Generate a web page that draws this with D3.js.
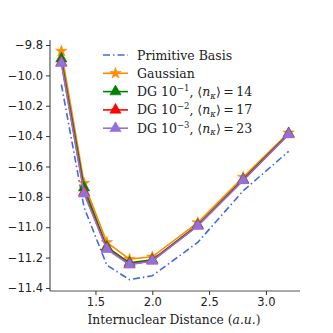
<!DOCTYPE html>
<html>
<head>
<meta charset="utf-8">
<script src="https://cdn.jsdelivr.net/npm/d3@7"></script>
<style>
  body { margin: 0; background: #fff; }
  svg text { fill: #222; }
</style>
</head>
<body>
<svg id="chart" width="333" height="333"></svg>
<script>
var distances = [1.2, 1.4, 1.6, 1.8, 2.0, 2.4, 2.8, 3.2];
var primitive = [-10.06, -10.87, -11.25, -11.345, -11.32, -11.10, -10.76, -10.50];
var gaussian = [-9.84, -10.71, -11.10, -11.21, -11.195, -10.97, -10.67, -10.378];
var dg1 = [-9.89, -10.74, -11.13, -11.235, -11.215, -10.985, -10.685, -10.383];
var dg2 = [-9.915, -10.77, -11.14, -11.245, -11.22, -10.99, -10.69, -10.388];
var dg3 = [-9.92, -10.78, -11.145, -11.247, -11.222, -10.992, -10.692, -10.389];
var xTicks = [1.5, 2.0, 2.5, 3.0];
var yTicks = [-9.8, -10.0, -10.2, -10.4, -10.6, -10.8, -11.0, -11.2, -11.4];

var series = [
  {name: 'Primitive Basis', values: primitive, color: '#4169e1', dash: '7,3,1.5,3', marker: null},
  {name: 'Gaussian', values: gaussian, color: '#ff8c00', dash: null, marker: 'star'},
  {name: 'DG 10', exp: '−1', n: '14', values: dg1, color: '#008000', dash: null, marker: 'tri'},
  {name: 'DG 10', exp: '−2', n: '17', values: dg2, color: '#ff0000', dash: null, marker: 'tri'},
  {name: 'DG 10', exp: '−3', n: '23', values: dg3, color: '#9370db', dash: null, marker: 'tri'}
];

(function () {
  var svg = d3.select('#chart'),
      left = 50, right = 300, top = 40, bottom = 291;

  var x = d3.scaleLinear().domain([1.1, 3.3]).range([left, right]);
  var y = d3.scaleLinear().domain([-11.42, -9.767]).range([bottom, top]);

  var fmt = function (d) { return d3.format('.1f')(d).replace('-', '−'); };

  var xAxis = svg.append('g')
    .attr('transform', 'translate(0,' + bottom + ')')
    .call(d3.axisBottom(x).tickValues(xTicks).tickFormat(fmt).tickSize(4).tickPadding(3));
  var yAxis = svg.append('g')
    .attr('transform', 'translate(' + left + ',0)')
    .call(d3.axisLeft(y).tickValues(yTicks).tickFormat(fmt).tickSize(4).tickPadding(3));

  [xAxis, yAxis].forEach(function (a) {
    a.select('.domain').attr('stroke', '#555').attr('stroke-width', 1.2);
    a.selectAll('.tick line').attr('stroke', '#333').attr('stroke-width', 1);
    a.selectAll('.tick text')
      .attr('font-family', 'DejaVu Sans')
      .attr('font-size', 11.5)
      .attr('fill', '#222');
  });
  yAxis.select('.domain').attr('d', 'M0,' + top + 'V' + bottom);
  xAxis.select('.domain').attr('d', 'M' + left + ',0H' + right);

  var line = d3.line()
    .x(function (d, i) { return x(distances[i]); })
    .y(function (d) { return y(d); });

  var star = d3.symbol().type(d3.symbolStar).size(40);
  var tri = d3.symbol().type(d3.symbolTriangle).size(55);

  function drawMarker(g, s, cx, cy) {
    if (!s.marker) return;
    g.append('path')
      .attr('d', s.marker === 'star' ? star() : tri())
      .attr('transform', 'translate(' + cx + ',' + cy + ')')
      .attr('fill', s.color)
      .attr('stroke', s.color)
      .attr('stroke-width', 0.6);
  }

  series.forEach(function (s) {
    var g = svg.append('g');
    g.append('path')
      .datum(s.values)
      .attr('d', line)
      .attr('fill', 'none')
      .attr('stroke', s.color)
      .attr('stroke-width', 1.6)
      .attr('stroke-dasharray', s.dash);
    s.values.forEach(function (v, i) {
      drawMarker(g, s, x(distances[i]), y(v));
    });
  });

  // legend
  var lg = svg.append('g').attr('font-family', 'DejaVu Serif').attr('font-size', 12.5);
  series.forEach(function (s, i) {
    var ly = 55 + i * 18.3;
    lg.append('line')
      .attr('x1', 103).attr('x2', 128)
      .attr('y1', ly).attr('y2', ly)
      .attr('stroke', s.color)
      .attr('stroke-width', 1.6)
      .attr('stroke-dasharray', s.dash);
    drawMarker(lg, s, 115.5, ly);
    var t = lg.append('text').attr('x', 137).attr('y', ly + 4.5);
    t.append('tspan').text(s.name);
    if (s.exp) {
      t.append('tspan').attr('font-size', 8.5).attr('dy', -5).text(s.exp);
      t.append('tspan').attr('dy', 5).text(', ⟨');
      t.append('tspan').attr('font-style', 'italic').text('n');
      t.append('tspan').attr('font-style', 'italic').attr('font-size', 8.5).attr('dy', 2.5).text('κ');
      t.append('tspan').attr('dy', -2.5).text('⟩\u2009=\u2009' + s.n);
    }
  });

  // x label
  var xl = svg.append('text')
    .attr('x', (left + right) / 2 - 1)
    .attr('y', 324)
    .attr('text-anchor', 'middle')
    .attr('font-family', 'DejaVu Serif')
    .attr('font-size', 12.3);
  xl.append('tspan').text('Internuclear Distance (');
  xl.append('tspan').attr('font-style', 'italic').text('a.u.');
  xl.append('tspan').text(')');
})();
</script>
</body>
</html>
